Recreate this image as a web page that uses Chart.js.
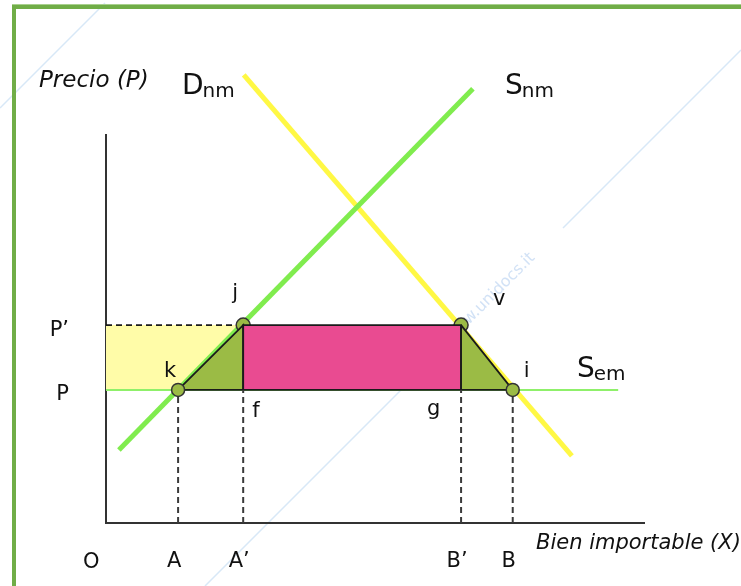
<!DOCTYPE html>
<html>
<head>
<meta charset="utf-8">
<script src="https://cdn.jsdelivr.net/npm/chart.js@4/dist/chart.umd.min.js"></script>
<style>
  body { margin: 0; background: #fff; }
  canvas { display: block; }
</style>
</head>
<body>
<canvas id="graph" width="741" height="586"></canvas>
<script>
// quantities on the X axis (O = 0)
const qtyLabels = ["A", "A\u2019", "B\u2019", "B"];
const qtyValues = [13.4, 25.5, 66, 75.6];

// prices on the Y axis
const priceLabels = ["P\u2019", "P"];
const priceValues = [51, 34.3];

// national supply and demand, end points [x, y]
const supplyNm = [[2.4, 18.8], [68.2, 111.9]];
const demandNm = [[25.6, 115.5], [86.6, 17.3]];
// world supply is flat at P, up to this quantity
const supplyEmEnd = 95.2;

const [xA, xA2, xB2, xB] = qtyValues;
const [pHigh, pLow] = priceValues;

const k = { x: xA, y: pLow };
const j = { x: xA2, y: pHigh };
const v = { x: xB2, y: pHigh };
const i = { x: xB, y: pLow };
const f = { x: xA2, y: pLow };
const g = { x: xB2, y: pLow };

const olive = "#9bbb45";
const edge = "#1a1a1a";
const font = "DejaVu Sans";

function toXY(pts) {
    return pts.map(p => ({ x: p[0], y: p[1] }));
}

function shape(data, color, order) {
    return {
        data: data,
        showLine: true,
        fill: "shape",
        backgroundColor: color,
        borderColor: edge,
        borderWidth: 1.8,
        pointRadius: 0,
        order: order
    };
}

const datasets = [
    {
        // strip between P and P'
        data: [{ x: 0, y: pHigh }, j],
        showLine: true,
        fill: { value: pLow },
        backgroundColor: "#fffca8",
        borderColor: edge,
        borderWidth: 1.8,
        borderDash: [6, 4],
        pointRadius: 0,
        order: 20
    },
    {
        data: [{ x: 0, y: pLow }, { x: supplyEmEnd, y: pLow }],
        showLine: true,
        borderColor: "#8ff06a",
        borderWidth: 2,
        pointRadius: 0,
        order: 19
    },
    {
        data: toXY(supplyNm),
        showLine: true,
        borderColor: "#80ec4e",
        borderWidth: 5,
        pointRadius: 0,
        clip: false,
        order: 18
    },
    {
        data: toXY(demandNm),
        showLine: true,
        borderColor: "#fff844",
        borderWidth: 5,
        pointRadius: 0,
        clip: false,
        order: 18
    },
    {
        data: [j, v],
        showLine: false,
        pointRadius: 7,
        pointBackgroundColor: olive,
        pointBorderColor: "#333",
        pointBorderWidth: 1.5,
        order: 17
    },
    shape([k, j, f, k], olive, 16),
    shape([f, j, v, g, f], "#e94b91", 15),
    shape([v, g, i, v], olive, 14),
    {
        data: [k, i],
        showLine: false,
        pointRadius: 6.5,
        pointBackgroundColor: olive,
        pointBorderColor: "#333",
        pointBorderWidth: 1.5,
        order: 0
    }
];

// dashed drop lines from the price line to the quantity axis
qtyValues.forEach(q => {
    datasets.push({
        data: [{ x: q, y: 0 }, { x: q, y: pLow }],
        showLine: true,
        borderColor: "#3a3a3a",
        borderWidth: 2,
        borderDash: [6, 4],
        pointRadius: 0,
        order: 12
    });
});

const background = {
    id: "background",
    beforeDraw(chart) {
        const c = chart.ctx;
        c.save();
        c.fillStyle = "#fff";
        c.fillRect(0, 0, chart.width, chart.height);

        // faint watermark
        c.strokeStyle = "#d8e8f7";
        c.lineWidth = 1.5;
        c.beginPath();
        c.moveTo(0, 108); c.lineTo(105, 3);
        c.moveTo(205, 586); c.lineTo(410, 381);
        c.moveTo(563, 228); c.lineTo(741, 50);
        c.stroke();
        c.translate(490, 298);
        c.rotate(-Math.PI / 4);
        c.fillStyle = "#d2e2f6";
        c.font = "16px '" + font + "'";
        c.textAlign = "center";
        c.textBaseline = "middle";
        c.fillText("www.unidocs.it", 0, 0);
        c.restore();

        // green page frame
        c.save();
        c.fillStyle = "#a9d08e";
        c.fillRect(12, 4, chart.width, 1);
        c.fillStyle = "#70ad47";
        c.fillRect(12, 5, chart.width, 4);
        c.fillRect(12, 5, 4, chart.height);
        c.restore();
    }
};

const labels = {
    id: "labels",
    afterDatasetsDraw(chart) {
        const c = chart.ctx;
        const sx = chart.scales.x;
        const sy = chart.scales.y;
        const at = (p, dx, dy) => [sx.getPixelForValue(p.x) + dx, sy.getPixelForValue(p.y) + dy];

        c.save();
        c.fillStyle = "#111";
        c.textBaseline = "alphabetic";

        c.font = "italic 23px '" + font + "'";
        c.fillText("Precio (P)", 39, 87);
        c.font = "italic 21px '" + font + "'";
        c.fillText("Bien importable (X)", 536, 549);

        c.font = "21px '" + font + "'";
        c.fillText("O", 83, 568);
        const pointTags = [
            ["k", at(k, -14, -13)],
            ["j", at(j, -11, -26)],
            ["v", at(v, 32, -20)],
            ["i", at(i, 11, -13)],
            ["f", at(f, 9, 27)],
            ["g", at(g, -34, 25)]
        ];
        pointTags.forEach(t => c.fillText(t[0], t[1][0], t[1][1]));

        const curveTag = (big, small, x, y) => {
            c.font = "28px '" + font + "'";
            c.fillText(big, x, y);
            const w = c.measureText(big).width;
            c.font = "20px '" + font + "'";
            c.fillText(small, x + w - 1, y + 3);
        };
        curveTag("D", "nm", 182, 94);
        curveTag("S", "nm", 505, 94);
        curveTag("S", "em", 577, 377);
        c.restore();
    }
};

new Chart(document.getElementById("graph"), {
    type: "scatter",
    data: { datasets: datasets },
    options: {
        responsive: false,
        animation: false,
        layout: { padding: { top: 135, right: 97, left: 0, bottom: 0 } },
        plugins: {
            legend: { display: false },
            tooltip: { enabled: false }
        },
        scales: {
            x: {
                type: "linear",
                min: 0,
                max: 100,
                grid: { display: false, drawTicks: false },
                border: { display: true, color: "#333", width: 2 },
                afterBuildTicks: axis => { axis.ticks = qtyValues.map(q => ({ value: q })); },
                afterFit: axis => { axis.height = 63; },
                ticks: {
                    autoSkip: false,
                    maxRotation: 0,
                    padding: 26,
                    labelOffset: -4,
                    color: "#111",
                    font: { family: font, size: 21 },
                    callback: value => qtyLabels[qtyValues.indexOf(value)]
                }
            },
            y: {
                type: "linear",
                min: 0,
                max: 100,
                grid: { display: false, drawTicks: false },
                border: { display: true, color: "#333", width: 2 },
                afterBuildTicks: axis => { axis.ticks = priceValues.map(p => ({ value: p })); },
                afterFit: axis => { axis.width = 106; },
                ticks: {
                    autoSkip: false,
                    padding: 37,
                    labelOffset: 5,
                    color: "#111",
                    font: { family: font, size: 21 },
                    callback: value => priceLabels[priceValues.indexOf(value)]
                }
            }
        }
    },
    plugins: [background, labels]
});
</script>
</body>
</html>
